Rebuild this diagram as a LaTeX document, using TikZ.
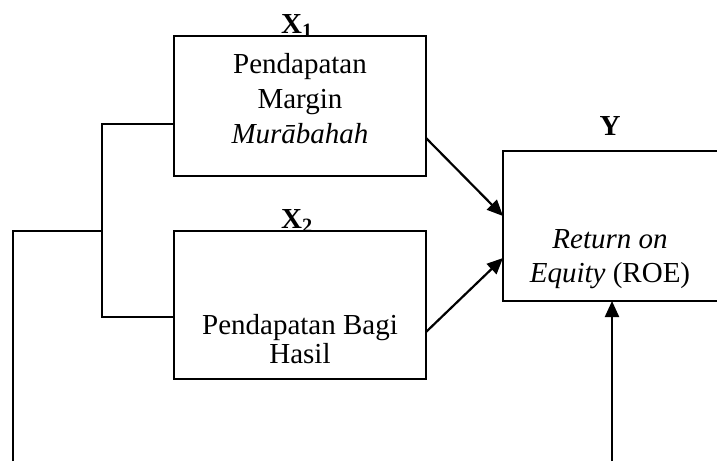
\documentclass[tikz,border=0pt]{standalone}
\usepackage{fontspec}
\setmainfont{Liberation Serif}
\usetikzlibrary{arrows.meta}
\begin{document}
\begin{tikzpicture}[x=1pt,y=-1pt,
  box/.style={draw, line width=1.4pt, inner sep=0pt, outer sep=0pt},
  wire/.style={line width=1.5pt},
  arr/.style={line width=2.2pt, -{Triangle[length=16pt,width=14pt]}},
  txt/.style={font=\fontsize{29}{35}\selectfont, align=center, inner sep=0pt},
  lbl/.style={font=\fontsize{29}{35}\selectfont\bfseries, inner sep=0pt, anchor=base}]
\useasboundingbox (0,0) rectangle (717,461);
% boxes
\node[box, minimum width=252pt, minimum height=140pt] (x1) at (300,106) {};
\node[box, minimum width=252pt, minimum height=148pt] (x2) at (300,305) {};
\node[box, minimum width=220pt, minimum height=150pt] (y) at (613,226) {};
% texts (anchor=base is the baseline of the last line)
\node[txt, anchor=base] (t1) at (300,143) {Pendapatan\\Margin\\\textit{Murābahah}};
\node[txt, font=\fontsize{29}{29}\selectfont, anchor=base] (t2) at (300,363) {Pendapatan Bagi\\Hasil};
\node[txt, font=\fontsize{29}{34}\selectfont, anchor=base] (t3) at (610,282) {\textit{Return on}\\\textit{Equity} (ROE)};
% labels
\node[lbl] (lx1) at (297,33) {X\textsubscript{1}};
\node[lbl] (lx2) at (297,228) {X\textsubscript{2}};
\node[lbl] (ly) at (610,135) {Y};
% connectors
\coordinate (jn) at (102,231);
\coordinate (lb) at (13,461);
\coordinate (bb) at (612,461);
\draw[wire] ([yshift=-18pt]x1.west) -| (jn) |- ([yshift=-12pt]x2.west);
\draw[wire] (lb) |- (jn);
\draw[arr] ([yshift=38pt]x1.south east) -- ([yshift=10pt]y.west);
\draw[arr] ([yshift=47pt]x2.south east) -- ([yshift=43pt]y.south west);
\draw[arr] (bb) -- (bb |- y.south);
\end{tikzpicture}
\end{document}
